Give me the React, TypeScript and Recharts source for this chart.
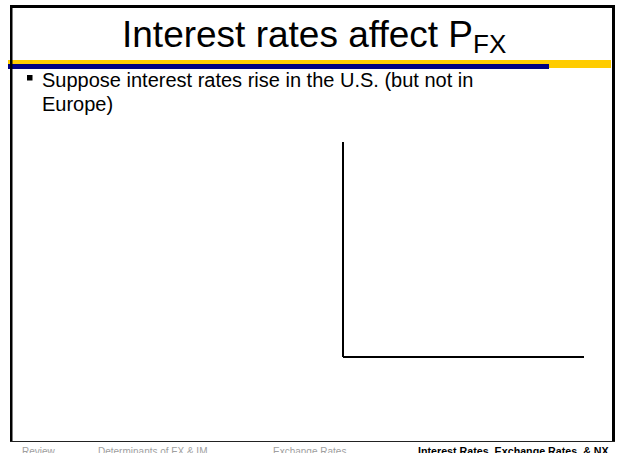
import React from "react";
import { ComposedChart, XAxis, YAxis, Line } from "recharts";

// Axis domains for the (still empty) FX market diagram
const quantityDomain: number[] = [0, 10];
const priceDomain: number[] = [0, 10];
// Quantity positions along the axis; no price curve is drawn yet on this slide
const quantities: number[] = [0, 10];
const prices: (number | null)[] = [null, null];

const footerItems = ["Review", "Determinants of FX & IM", "Exchange Rates"];
const footerActive = "Interest Rates, Exchange Rates, & NX";
const titleMain = "Interest rates affect P";
const titleSub = "FX";
const bulletLines = ["Suppose interest rates rise in the U.S. (but not in", "Europe)"];

const FONT = "'Liberation Sans', Arial, Helvetica, sans-serif";

const chartData = quantities.map((q, i) => ({ q, p: prices[i] }));

export default function App() {
  const footerX = [22, 98, 273];
  return (
    <div style={{ position: "absolute", left: 0, top: 0, width: 618, height: 453, background: "#fff", overflow: "hidden" }}>
      <svg width={618} height={453} style={{ position: "absolute", left: 0, top: 0 }}>
        {/* yellow and navy band */}
        <rect x={8} y={60} width={603} height={8} fill="#FFCC00" />
        <rect x={8} y={64} width={541} height={5} fill="#000080" />
        {/* frame */}
        <rect x={10} y={5} width={605} height={3} fill="#000" />
        <rect x={10} y={5} width={2.5} height={437} fill="#000" />
        <rect x={612} y={5} width={3} height={437} fill="#000" />
        <line x1={10} y1={441.5} x2={615} y2={441.5} stroke="#222" strokeWidth={1} />
        {/* title */}
        <text x={122} y={47} fontFamily={FONT} fontSize={37} fill="#000">
          {titleMain}
          <tspan fontSize={26} dy={6}>{titleSub}</tspan>
        </text>
        {/* bullet */}
        <rect x={27} y={75} width={5.5} height={5.5} fill="#000" />
        {bulletLines.map((t, i) => (
          <text key={i} x={42} y={87 + i * 23.5} fontFamily={FONT} fontSize={20} fill="#000">
            {t}
          </text>
        ))}
        {/* footer */}
        {footerItems.map((t, i) => (
          <text key={t} x={footerX[i]} y={454.5} fontFamily={FONT} fontSize={10} fill="#a0a0a0">
            {t}
          </text>
        ))}
        <text x={418} y={454.5} fontFamily={FONT} fontSize={10.7} fontWeight="bold" fill="#000">
          {footerActive}
        </text>
      </svg>
      <div style={{ position: "absolute", left: 0, top: 0 }}>
        <ComposedChart
          width={618}
          height={453}
          data={chartData}
          margin={{ top: 142, left: 342, right: 34, bottom: 95 }}
        >
          <XAxis
            type="number"
            dataKey="q"
            domain={quantityDomain}
            height={1}
            tick={false}
            tickLine={false}
            axisLine={{ stroke: "#000", strokeWidth: 2 }}
          />
          <YAxis
            type="number"
            domain={priceDomain}
            width={1}
            tick={false}
            tickLine={false}
            axisLine={{ stroke: "#000", strokeWidth: 2 }}
          />
          <Line dataKey="p" stroke="#000" dot={false} isAnimationActive={false} connectNulls={false} />
        </ComposedChart>
      </div>
    </div>
  );
}
